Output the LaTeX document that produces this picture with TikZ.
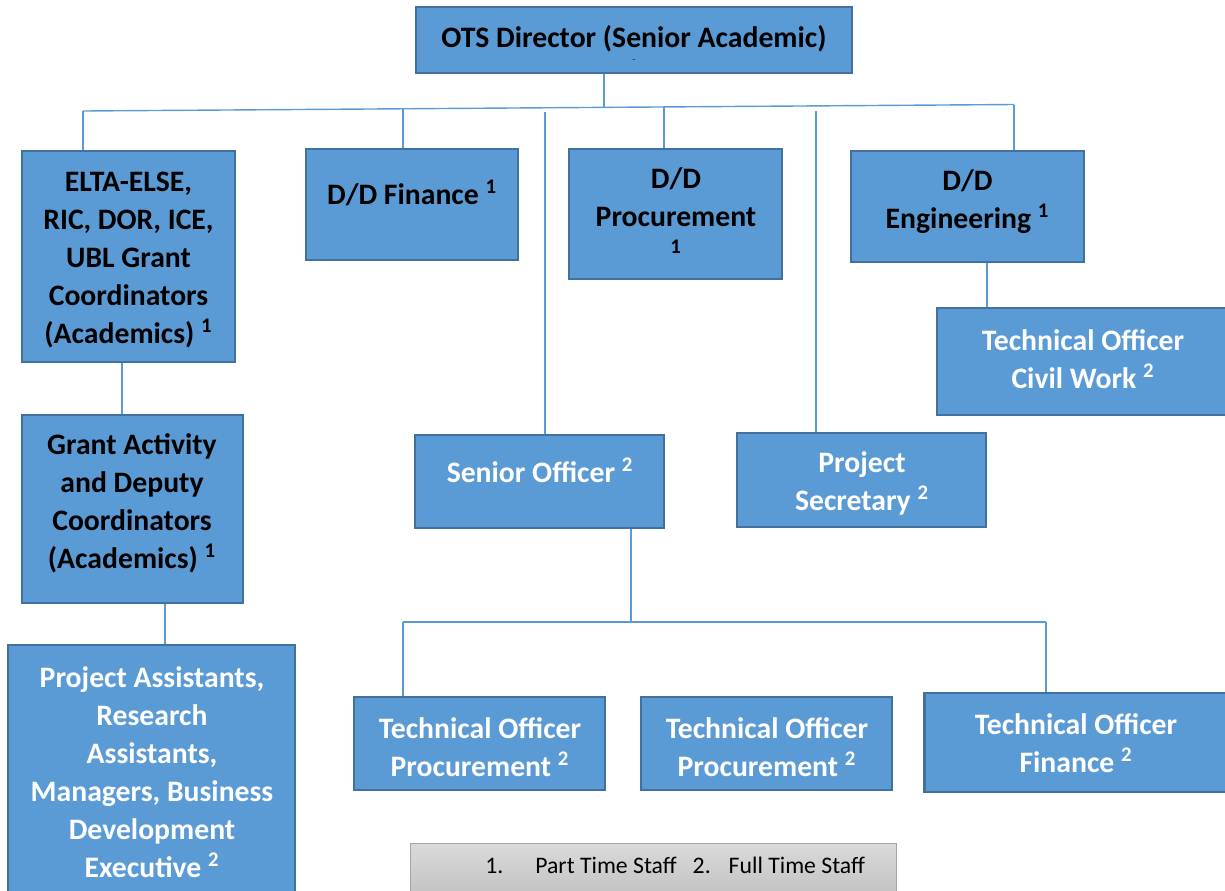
\documentclass[tikz,border=0pt]{standalone}
\usepackage{fontspec}
\setmainfont{Carlito}
\usepackage{xcolor}
\usetikzlibrary{backgrounds}

\definecolor{boxblue}{HTML}{5B9BD5}
\definecolor{boxedge}{HTML}{41719C}
\definecolor{keytop}{HTML}{DADADA}
\definecolor{keybot}{HTML}{C2C2C2}
\definecolor{keyedge}{HTML}{A6A6A6}

\begin{document}
\begin{tikzpicture}[x=0.02cm, y=-0.02cm,
  unit/.style={draw=boxedge, fill=boxblue, line width=1.2pt, inner sep=0pt},
  boxtext/.style={align=center, inner sep=0pt, font=\fontsize{16.9}{21.6}\selectfont\bfseries},
  darktext/.style={boxtext, text=black},
  lighttext/.style={boxtext, text=white},
  wire/.style={draw=boxblue, line width=0.8pt},
  keybox/.style={draw=keyedge, line width=0.6pt, top color=keytop, bottom color=keybot, inner sep=0pt}]

\useasboundingbox (0,0) rectangle (1225,890);

% top row
\node[unit, minimum width=8.72cm, minimum height=1.32cm] (dir) at (634,40) {};
\node[darktext] (dirT) at (634,39) {OTS Director (Senior Academic)};
\node[inner sep=0pt, font=\tiny] (dirM) at (634,61) {-};

\node[unit, minimum width=4.26cm, minimum height=4.22cm] (elta) at (128.5,256.5) {};
\node[darktext] (eltaT) at (128.5,260) {ELTA-ELSE,\\RIC, DOR, ICE,\\UBL Grant\\Coordinators\\(Academics) \textsuperscript{1}};

\node[unit, minimum width=4.24cm, minimum height=2.22cm] (fin) at (412,204.5) {};
\node[darktext] (finT) at (412,193) {D/D Finance \textsuperscript{1}};

\node[unit, minimum width=4.26cm, minimum height=2.6cm] (proc) at (675.5,214) {};
\node[darktext] (procT) at (676,216) {D/D\\Procurement\\\textsuperscript{1}};

\node[unit, minimum width=4.66cm, minimum height=2.22cm] (eng) at (967.5,206.5) {};
\node[darktext] (engT) at (967.5,202) {D/D\\Engineering \textsuperscript{1}};

% second level
\node[unit, minimum width=5.86cm, minimum height=2.14cm] (civil) at (1083.5,361.5) {};
\node[lighttext] (civilT) at (1083,359) {Technical Officer\\Civil Work \textsuperscript{2}};

\node[unit, minimum width=4.42cm, minimum height=3.76cm] (grant) at (132.5,509) {};
\node[darktext] (grantT) at (132,503) {Grant Activity\\and Deputy\\Coordinators\\(Academics) \textsuperscript{1}};

\node[unit, minimum width=4.98cm, minimum height=1.86cm] (senior) at (539.5,481.5) {};
\node[lighttext] (seniorT) at (540,470) {Senior Officer \textsuperscript{2}};

\node[unit, minimum width=4.98cm, minimum height=1.88cm] (sec) at (861.5,480) {};
\node[lighttext] (secT) at (862,483) {Project\\Secretary \textsuperscript{2}};

\node[unit, minimum width=5.74cm, minimum height=5.1cm] (pa) at (151.5,772.5) {};
\node[lighttext] (paT) at (152,772) {Project Assistants,\\Research\\Assistants,\\Managers, Business\\Development\\Executive \textsuperscript{2}};

% bottom row
\node[unit, minimum width=5.02cm, minimum height=1.86cm] (top1) at (479.5,743.5) {};
\node[lighttext] (top1T) at (480,747) {Technical Officer\\Procurement \textsuperscript{2}};

\node[unit, minimum width=5.02cm, minimum height=1.86cm] (top2) at (766.5,743.5) {};
\node[lighttext] (top2T) at (767,747) {Technical Officer\\Procurement \textsuperscript{2}};

\node[unit, minimum width=6.06cm, minimum height=1.98cm] (tofin) at (1076,742.5) {};
\node[lighttext] (tofinT) at (1076,743) {Technical Officer\\Finance \textsuperscript{2}};

% key
\node[keybox, minimum width=9.72cm, minimum height=1.04cm, anchor=north west] (key) at (410,843) {};
\node[inner sep=0pt, anchor=base west, font=\fontsize{13.5}{16}\selectfont] (keyT) at (485,873) {1.\hspace{0.64cm}Part Time Staff\hspace{0.32cm}2.\hspace{0.36cm}Full Time Staff};

\begin{scope}[on background layer]
\coordinate (barL) at (83,111);
\coordinate (barR) at (1014,104.5);
\coordinate (bFin) at (403,108.8);
\coordinate (bDir) at (604,107.4);
\coordinate (bProc) at (664,106.9);
\coordinate (sOff) at (545,112);
\coordinate (sSec) at (816,111);
\draw[wire] (barL) -- (barR);
\draw[wire] (dir.south -| bDir) -- (bDir);
\draw[wire] (barL) -- (barL |- elta.north);
\draw[wire] (bFin) -- (bFin |- fin.north);
\draw[wire] (bProc) -- (bProc |- proc.north);
\draw[wire] (barR) -- (barR |- eng.north);
\draw[wire] (sOff) -- (sOff |- senior.north);
\draw[wire] (sSec) -- (sSec |- sec.north);

\coordinate (kElta) at (122,0);
\coordinate (kGrant) at (165,0);
\coordinate (kEng) at (987,0);
\draw[wire] (elta.south -| kElta) -- (grant.north -| kElta);
\draw[wire] (grant.south -| kGrant) -- (pa.north -| kGrant);
\draw[wire] (eng.south -| kEng) -- (civil.north -| kEng);

\coordinate (lowL) at (403,622);
\coordinate (lowM) at (631,622);
\coordinate (lowR) at (1046,622);
\draw[wire] (senior.south -| lowM) -- (lowM);
\draw[wire] (lowL) -- (lowR);
\draw[wire] (lowL) -- (lowL |- top1.north);
\draw[wire] (lowR) -- (lowR |- tofin.north);
\end{scope}
\end{tikzpicture}
\end{document}
